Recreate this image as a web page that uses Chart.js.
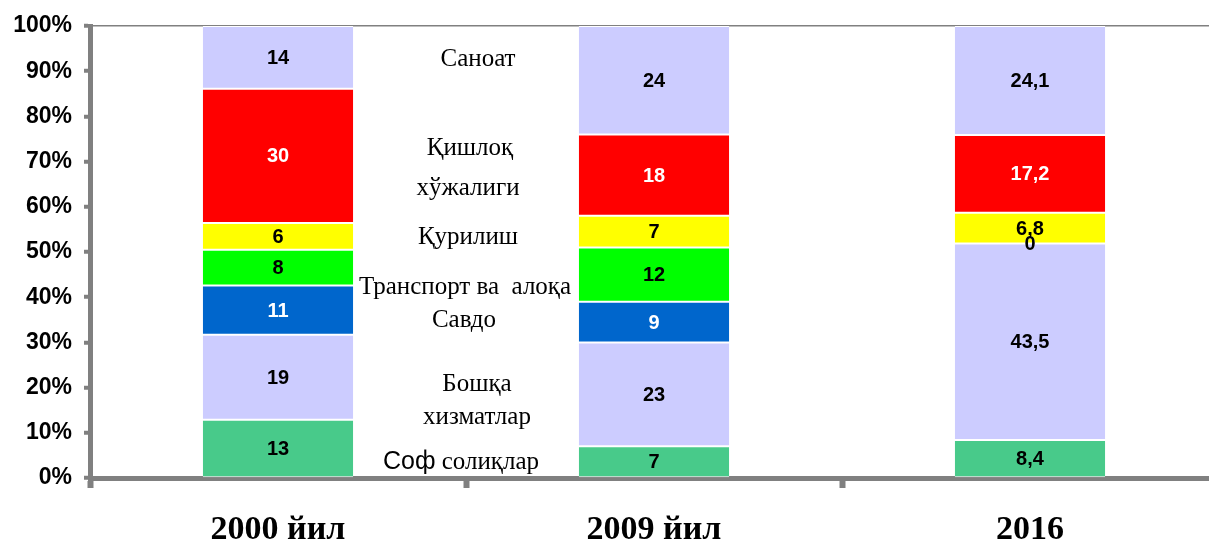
<!DOCTYPE html>
<html>
<head>
<meta charset="utf-8">
<script src="https://cdn.jsdelivr.net/npm/chart.js@4"></script>
<style>
  html, body { margin: 0; padding: 0; background: #fff; overflow: hidden; }
  canvas { display: block; }
</style>
</head>
<body>
<canvas id="chart" width="1222" height="542"></canvas>
<script>
// Categories and series (values as printed on the bars)
const categories = ["2000 йил", "2009 йил", "2016"];
const sofSoliqlar = [13, 7, 8.4];
const boshqaXizmatlar = [19, 23, 43.5];
const savdo = [11, 9, 0];
const transport = [8, 12, 0];
const qurilish = [6, 7, 6.8];
const qishloq = [30, 18, 17.2];
const sanoat = [14, 24, 24.1];
const yTicks = [0, 10, 20, 30, 40, 50, 60, 70, 80, 90, 100];

// Series, bottom to top
const series = [
  { name: "Соф солиқлар", values: sofSoliqlar, color: "#48CA8A", text: "#000" },
  { name: "Бошқа хизматлар", values: boshqaXizmatlar, color: "#CCCCFF", text: "#000" },
  { name: "Савдо", values: savdo, color: "#0066CC", text: "#fff" },
  { name: "Транспорт ва алоқа", values: transport, color: "#00FF00", text: "#000" },
  { name: "Қурилиш", values: qurilish, color: "#FFFF00", text: "#000" },
  { name: "Қишлоқ хўжалиги", values: qishloq, color: "#FF0000", text: "#fff" },
  { name: "Саноат", values: sanoat, color: "#CCCCFF", text: "#000" }
];

// Side captions between the first two bars (y in axis percent)
const notes = [
  { parts: [["Саноат", "serif"]], y: 92.5, dx: 12 },
  { parts: [["Қишлоқ", "serif"]], y: 73, dx: 4 },
  { parts: [["хўжалиги", "serif"]], y: 64, dx: 2 },
  { parts: [["Қурилиш", "serif"]], y: 53.2, dx: 2 },
  { parts: [["Транспорт ва  алоқа", "serif"]], y: 42.1, dx: -1 },
  { parts: [["Савдо", "serif"]], y: 34.8, dx: -2 },
  { parts: [["Бошқа", "serif"]], y: 20.8, dx: 11 },
  { parts: [["хизматлар", "serif"]], y: 13.3, dx: 11 },
  { parts: [["Соф", "sans"], [" солиқлар", "serif"]], y: 3.5, dx: -5 }
];

const totals = categories.map((c, i) => series.reduce((s, d) => s + d.values[i], 0));

const fmt = v => String(v).replace(".", ",");

const valueLabels = {
  id: "valueLabels",
  afterDatasetsDraw(chart) {
    const ctx = chart.ctx;
    ctx.save();
    ctx.font = "bold 20px 'Liberation Sans', Arial, sans-serif";
    ctx.textAlign = "center";
    ctx.textBaseline = "middle";
    chart.data.datasets.forEach((ds, di) => {
      const meta = chart.getDatasetMeta(di);
      meta.data.forEach((bar, i) => {
        const p = bar.getProps(["x", "y", "base"], true);
        ctx.fillStyle = series[di].text;
        ctx.fillText(fmt(series[di].values[i]), p.x, (p.y + p.base) / 2 + 1);
      });
    });
    ctx.restore();
  }
};

const sideNotes = {
  id: "sideNotes",
  afterDraw(chart) {
    const ctx = chart.ctx;
    const xs = chart.scales.x, ys = chart.scales.y;
    const cx = xs.getPixelForValue(0.5);
    ctx.save();
    ctx.textBaseline = "middle";
    ctx.fillStyle = "#000";
    notes.forEach(n => {
      const fonts = n.parts.map(p => p[1] === "sans"
        ? "25px 'Liberation Sans', Arial, sans-serif"
        : "25px 'Liberation Serif', 'Times New Roman', serif");
      let w = 0;
      n.parts.forEach((p, k) => { ctx.font = fonts[k]; w += ctx.measureText(p[0]).width; });
      let x = cx + n.dx - w / 2;
      const y = ys.getPixelForValue(n.y);
      ctx.textAlign = "left";
      n.parts.forEach((p, k) => {
        ctx.font = fonts[k];
        ctx.fillText(p[0], x, y);
        x += ctx.measureText(p[0]).width;
      });
    });
    ctx.restore();
  }
};

new Chart(document.getElementById("chart").getContext("2d"), {
  type: "bar",
  data: {
    labels: categories,
    datasets: series.map(s => ({
      label: s.name,
      data: s.values.map((v, i) => v / totals[i] * 100),
      backgroundColor: s.color,
      borderColor: "#fff",
      borderWidth: { top: 1, bottom: 1, left: 0, right: 0 },
      borderSkipped: false,
      categoryPercentage: 1,
      barPercentage: 0.4
    }))
  },
  options: {
    responsive: false,
    animation: false,
    layout: { padding: { top: 26, right: 4, left: 0, bottom: 0 } },
    plugins: { legend: { display: false }, tooltip: { enabled: false } },
    scales: {
      x: {
        stacked: true,
        afterFit: s => { s.height = 64; },
        border: { color: "#808080", width: 5 },
        grid: {
          offset: true,
          drawOnChartArea: false,
          tickLength: 10,
          tickWidth: 6,
          tickColor: "#808080"
        },
        ticks: {
          color: "#000",
          padding: 22,
          font: { family: "'Liberation Serif', 'Times New Roman', serif", size: 34, weight: "bold" }
        }
      },
      y: {
        stacked: true,
        min: 0,
        max: 100,
        afterFit: s => { s.width = 90; },
        afterBuildTicks: s => { s.ticks = yTicks.map(v => ({ value: v })); },
        border: { color: "#808080", width: 5 },
        grid: {
          drawOnChartArea: true,
          color: c => c.tick && c.tick.value === 100 ? "#808080" : "rgba(0,0,0,0)",
          lineWidth: 1.5,
          tickLength: 6,
          tickWidth: 4,
          tickColor: "#808080"
        },
        ticks: {
          color: "#000",
          padding: 12,
          callback: v => v + "%",
          font: { family: "'Liberation Sans', Arial, sans-serif", size: 23, weight: "bold" }
        }
      }
    }
  },
  plugins: [valueLabels, sideNotes]
});
</script>
</body>
</html>
